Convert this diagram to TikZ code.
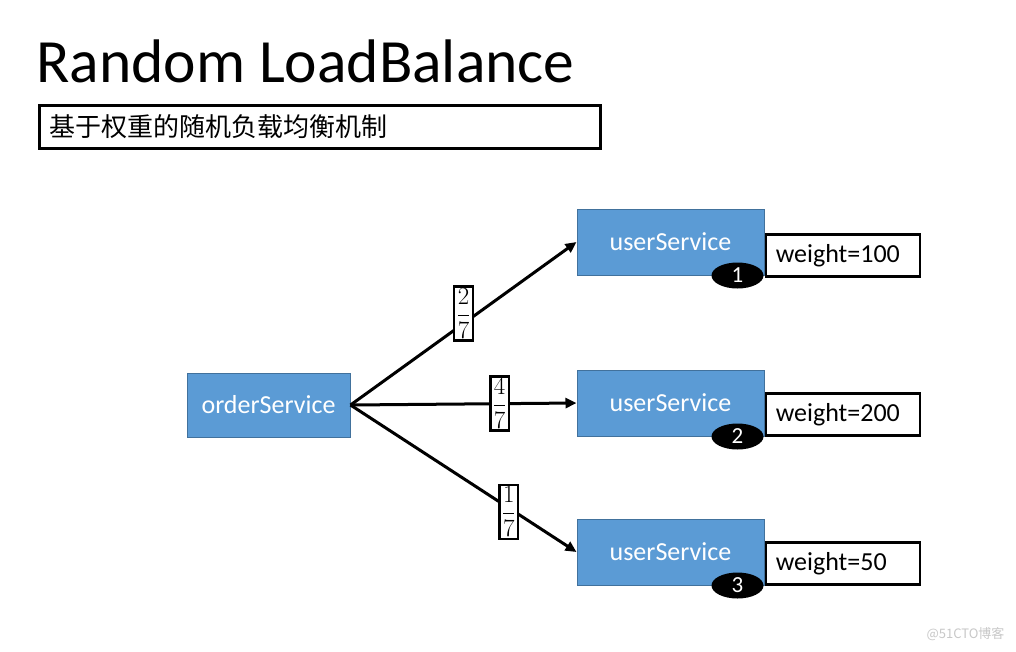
\documentclass[tikz,border=0pt]{standalone}
\usepackage{amsmath}
\usepackage{fontspec}
\setmainfont{Carlito}
\newfontfamily\cjk{Noto Sans CJK SC}
\usetikzlibrary{arrows.meta,shapes.geometric,positioning}
\definecolor{svcblue}{RGB}{91,155,213}
\definecolor{svcedge}{RGB}{65,113,156}
\definecolor{markgray}{RGB}{200,200,200}

\tikzset{
  svcbox/.style={draw=svcedge, line width=1pt, fill=svcblue, text=white,
    font=\fontsize{26}{30}\selectfont},
  weightbox/.style={draw, line width=2.5pt, fill=white, anchor=south west,
    minimum height=42pt, text width=134pt, inner xsep=10pt, align=left,
    font=\fontsize{26}{30}\selectfont},
  badge/.style={ellipse, fill=black, text=white, minimum width=52pt,
    minimum height=26pt, inner sep=0pt, font=\fontsize{23}{26}\selectfont},
  fracbox/.style={draw, line width=2.5pt, fill=white, inner xsep=2.5pt,
    inner ysep=2pt, font=\fontsize{27}{30}\selectfont},
  link/.style={line width=3pt, -{Triangle[length=11pt,width=10pt]}}
}

\begin{document}
\begin{tikzpicture}[x=1pt, y=-1pt]
    \useasboundingbox (0,0) rectangle (1016,651);
    \fill[white] (0,0) rectangle (1016,651);

    % Title and subtitle
    \node[anchor=base west, inner sep=0pt, font=\fontsize{61.5}{66}\selectfont]
        (title) at (36,82) {Random LoadBalance};
    \node[draw, line width=3pt, anchor=north west, minimum height=43pt,
        text width=541pt, inner xsep=10pt, align=left,
        font=\cjk\fontsize{26}{30}\selectfont]
        (subtitle) at (38,104) {基于权重的随机负载均衡机制};

    % Consumer
    \node[svcbox, minimum width=163pt, minimum height=64pt] (order) at (268.5,405) {orderService};

    % Providers
    \node[svcbox, minimum width=187pt, minimum height=66pt] (user1) at (670.5,242) {userService};
    \node[svcbox, minimum width=187pt, minimum height=66pt] (user2) at (670.5,403) {userService};
    \node[svcbox, minimum width=187pt, minimum height=66pt] (user3) at (670.5,552) {userService};

    % Index badges
    \node[badge] (badge1) at ([xshift=-27pt]user1.south east) {1};
    \node[badge] (badge2) at ([xshift=-27pt]user2.south east) {2};
    \node[badge] (badge3) at ([xshift=-27pt]user3.south east) {3};

    % Weights
    \node[weightbox] (weight1) at ([yshift=-2pt]user1.south east) {weight=100};
    \node[weightbox] (weight2) at (user2.south east) {weight=200};
    \node[weightbox] (weight3) at (user3.south east) {weight=50};

    % Random calls
    \draw[link] (order.east) -- node[fracbox, pos=0.5, yshift=10pt] (frac1) {$\dfrac{2}{7}$} (user1.west);
    \draw[link] (order.east) -- node[fracbox, pos=0.66] (frac2) {$\dfrac{4}{7}$} (user2.west);
    \draw[link] (order.east) -- node[fracbox, pos=0.70, yshift=-4pt] (frac3) {$\dfrac{1}{7}$} (user3.west);

    % Watermark
    \node[anchor=east, text=markgray, font=\cjk\fontsize{13}{15}\selectfont] (mark) at (1008,634) {@51CTO博客};
\end{tikzpicture}
\end{document}
